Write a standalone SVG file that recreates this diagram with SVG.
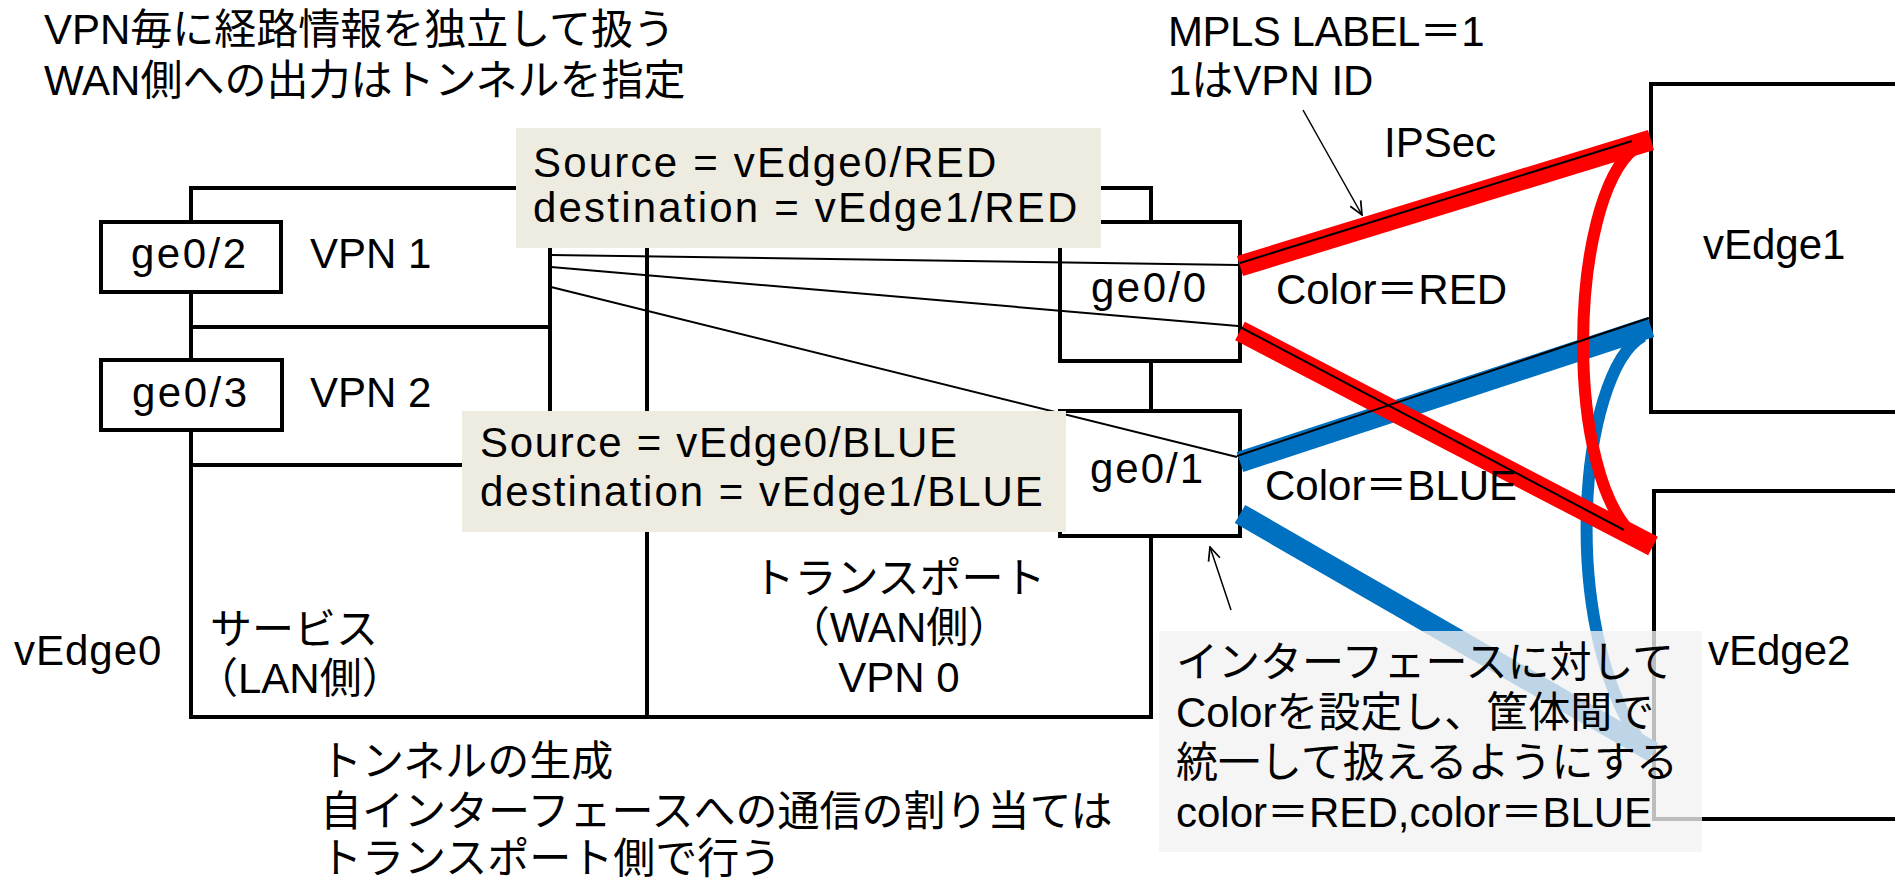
<svg xmlns="http://www.w3.org/2000/svg" width="1895" height="882" viewBox="0 0 1895 882">
<defs>
<style>
text{font-family:"Liberation Sans","Noto Sans CJK JP",sans-serif;font-size:42px;fill:#000}
.frame{stroke:#000;stroke-width:4;fill:none;stroke-linecap:square}
.box{stroke:#000;stroke-width:4;fill:#fff}
.label{fill:#EEECE1;stroke:none}
.thin{stroke:#000;stroke-width:2;fill:none}
.red{stroke:#FF0000;stroke-width:21;fill:none}
.blue{stroke:#0070C0;stroke-width:21;fill:none}
.redarc{stroke:#FF0000;stroke-width:12;fill:none}
.bluearc{stroke:#0070C0;stroke-width:12;fill:none}
.note{stroke:#000;stroke-width:1.5;fill:none}
.wide{letter-spacing:2.5px}
.mid{text-anchor:middle}
</style>
<marker id="openArrow" viewBox="0 0 12 12" refX="11" refY="6" markerWidth="16" markerHeight="16" markerUnits="userSpaceOnUse" orient="auto">
<path d="M1,1.5 L11,6 L1,10.5" fill="none" stroke="#000" stroke-width="1.3"/>
</marker>
</defs>
<rect width="1895" height="882" fill="#fff"/>

<g id="titles">
<text x="44" y="44">VPN毎に経路情報を独立して扱う</text>
<text x="44" y="95">WAN側への出力はトンネルを指定</text>
<text x="1168" y="46" style="letter-spacing:-0.5px">MPLS LABEL＝1</text>
<text x="1168" y="95">1はVPN ID</text>
<text x="1384" y="157">IPSec</text>
</g>

<g id="vEdge0">
<line class="frame" x1="191" y1="188" x2="1151" y2="188"/>
<line class="frame" x1="191" y1="188" x2="191" y2="717"/>
<line class="frame" x1="191" y1="717" x2="1151" y2="717"/>
<line class="frame" x1="1151" y1="188" x2="1151" y2="717"/>
<line class="frame" x1="191" y1="327" x2="550" y2="327"/>
<line class="frame" x1="191" y1="465" x2="550" y2="465"/>
<line class="frame" x1="550" y1="188" x2="550" y2="465"/>
<line class="frame" x1="647" y1="188" x2="647" y2="717"/>
<text x="14" y="665" style="letter-spacing:1px">vEdge0</text>
<text x="310" y="268">VPN 1</text>
<text x="310" y="407">VPN 2</text>
<text x="210" y="644">サービス</text>
<text x="196" y="693">（LAN側）</text>
<text class="mid" x="899" y="593">トランスポート</text>
<text class="mid" x="899" y="642">（WAN側）</text>
<text class="mid" x="899" y="692">VPN 0</text>
</g>

<g id="ge0-2">
<rect class="box" x="101" y="222" width="180" height="70"/>
<text class="wide" x="131" y="268">ge0/2</text>
</g>
<g id="ge0-3">
<rect class="box" x="101" y="360" width="181" height="70"/>
<text class="wide" x="132" y="407">ge0/3</text>
</g>
<g id="ge0-0">
<rect class="box" x="1060" y="222" width="180" height="139"/>
<text class="wide" x="1091" y="302">ge0/0</text>
</g>
<g id="ge0-1">
<rect class="box" x="1060" y="411" width="180" height="125"/>
<text x="1090" y="483" style="letter-spacing:2px">ge0/1</text>
</g>

<g id="vEdge1">
<rect class="box" x="1651" y="84" width="300" height="328"/>
<text x="1703" y="259">vEdge1</text>
</g>
<g id="vEdge2">
<rect class="box" x="1654" y="491" width="300" height="328"/>
<text x="1708" y="665">vEdge2</text>
</g>

<g id="connectors">
<line class="blue" x1="1240" y1="462" x2="1651" y2="327"/>
<line class="blue" x1="1240" y1="514" x2="1653" y2="752"/>
<path class="bluearc" d="M1643 336 C1578 372 1556 640 1649 753"/>
<line class="red" x1="1240" y1="266" x2="1651" y2="140"/>
<line class="red" x1="1240" y1="331" x2="1653" y2="546"/>
<path class="redarc" d="M1635 148 C1568 200 1563 480 1637 538"/>
<line class="thin" x1="1240" y1="263" x2="1632" y2="141"/>
<line class="thin" x1="1240" y1="327" x2="1624" y2="530"/>
<line class="thin" x1="1237" y1="456" x2="1649" y2="318"/>
<line class="thin" x1="551" y1="255" x2="1238" y2="265"/>
<line class="thin" x1="551" y1="267" x2="1238" y2="326"/>
<line class="thin" x1="551" y1="287" x2="1237" y2="457"/>
</g>

<g id="label-red">
<rect class="label" x="516" y="128" width="585" height="120"/>
<text x="533" y="177" style="letter-spacing:2.2px">Source = vEdge0/RED</text>
<text x="533" y="222" style="letter-spacing:2.2px">destination = vEdge1/RED</text>
</g>
<g id="label-blue">
<rect class="label" x="462" y="411" width="604" height="121"/>
<text x="480" y="457" style="letter-spacing:1.7px">Source = vEdge0/BLUE</text>
<text x="480" y="506" style="letter-spacing:2px">destination = vEdge1/BLUE</text>
</g>

<g id="color-labels">
<text x="1276" y="304">Color＝RED</text>
<text x="1265" y="500">Color＝BLUE</text>
</g>

<g id="note">
<rect x="1159" y="631" width="543" height="221" fill="#F2F2F2" fill-opacity="0.78"/>
<text x="1176" y="677">インターフェースに対して</text>
<text x="1176" y="727">Colorを設定し、筐体間で</text>
<text x="1176" y="777">統一して扱えるようにする</text>
<text x="1176" y="827">color＝RED,color＝BLUE</text>
</g>

<g id="callouts">
<line class="note" x1="1303" y1="110" x2="1362" y2="215" marker-end="url(#openArrow)"/>
<line class="note" x1="1231" y1="610" x2="1210" y2="547" marker-end="url(#openArrow)"/>
</g>

<g id="tunnel-note">
<text x="320" y="776">トンネルの生成</text>
<text x="320" y="826">自インターフェースへの通信の割り当ては</text>
<text x="320" y="873">トランスポート側で行う</text>
</g>
</svg>
